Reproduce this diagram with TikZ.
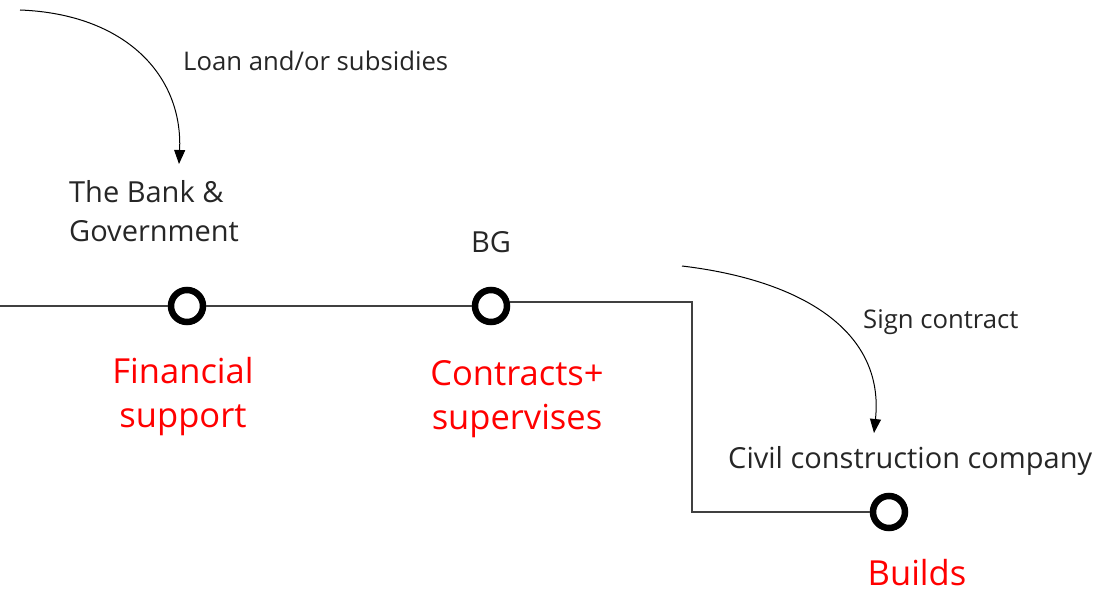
\documentclass[tikz,border=0pt]{standalone}
\usepackage{fontspec}
\setmainfont{Open Sans}
\usetikzlibrary{arrows.meta}
\definecolor{linegray}{HTML}{404040}
\definecolor{txtgray}{HTML}{262626}
\definecolor{redtxt}{HTML}{FF0000}
\tikzset{
  dot/.style={circle,draw=black,line width=6.5pt,fill=white,minimum size=32pt,inner sep=0pt},
  wire/.style={draw=linegray,line width=1.4pt},
  flow/.style={draw=black,line width=1pt,-{Triangle[length=14pt,width=11pt]}},
  lbl/.style={text=txtgray,inner sep=0pt,font=\fontsize{25.7}{30}\selectfont},
  blbl/.style={text=txtgray,inner sep=0pt,align=left,font=\fontsize{29}{39}\selectfont},
  redlbl/.style={text=redtxt,inner sep=0pt,align=center,font=\fontsize{34.5}{44}\selectfont}
}
\begin{document}
\begin{tikzpicture}[x=1pt,y=-1pt]
\useasboundingbox (0,0) rectangle (1104,599);
\coordinate (L0) at (0,306);
\coordinate (S1) at (20,10);
\coordinate (S2) at (682,266);
\coordinate (K1) at (692,302);
\coordinate (K2) at (692,512);
\node[dot] (c1) at (187,306) {};
\node[dot] (c2) at (491,306) {};
\node[dot] (c3) at (889,512) {};
\draw[wire] (L0) -- (c1.west);
\draw[wire] (c1.east) -- (c2.west);
\draw[wire] (c2.east |- K1) -- (K1) -- (K2) -- (c3.west);
\node[blbl,anchor=north west] (bank) at (69,180) {The Bank \&\\Government};
\node[lbl,anchor=west] (loan) at (183,61) {Loan and/or subsidies};
\coordinate (T1) at (179,164);
\draw[flow] (S1) .. controls (125,14) and (183,75) .. (T1);
\node[blbl,anchor=center] (bg) at (491,242) {BG};
\node[redlbl,anchor=north] (fin) at (183,357) {Financial\\support};
\node[redlbl,anchor=north] (con) at (517,360) {Contracts+\\supervises};
\node[lbl,anchor=west] (sign) at (863,322) {Sign contract};
\node[blbl,anchor=west] (civ) at (728,461) {Civil construction company};
\coordinate (T2) at (874,433);
\draw[flow] (S2) .. controls (800,280) and (885,330) .. (T2);
\node[redlbl,anchor=center] (bld) at (917,573) {Builds};
\end{tikzpicture}
\end{document}
